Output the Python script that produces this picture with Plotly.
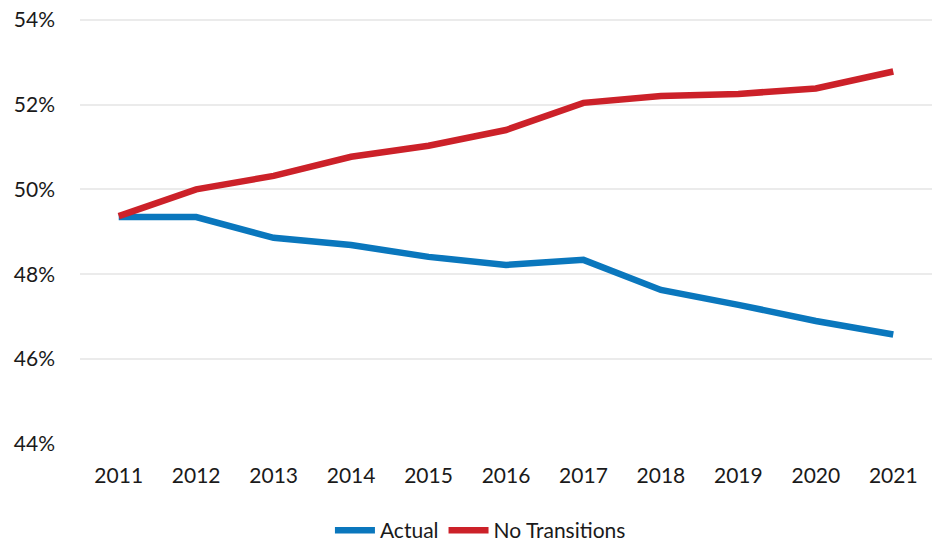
import plotly.graph_objects as go

years = ["2011", "2012", "2013", "2014", "2015", "2016", "2017", "2018", "2019", "2020", "2021"]
actual = [49.35, 49.35, 48.86, 48.69, 48.41, 48.22, 48.34, 47.63, 47.28, 46.90, 46.58]
no_transitions = [49.37, 50.0, 50.32, 50.77, 51.03, 51.40, 52.04, 52.20, 52.25, 52.38, 52.78]
y_ticks = [44, 46, 48, 50, 52, 54]
y_tick_labels = ["44%", "46%", "48%", "50%", "52%", "54%"]

fig = go.Figure()
fig.add_trace(go.Scatter(x=years, y=actual, mode="lines", name="Actual",
                         line=dict(color="#0a77bd", width=6.5)))
fig.add_trace(go.Scatter(x=years, y=no_transitions, mode="lines", name="No Transitions",
                         line=dict(color="#cc2129", width=6.5)))

fig.update_layout(
    width=934, height=544,
    margin=dict(l=80, r=2, t=18, b=100, autoexpand=False),
    plot_bgcolor="white", paper_bgcolor="white",
    font=dict(family="Lato, 'Source Sans Pro', sans-serif", size=21, color="#1a1a1a"),
    showlegend=True,
    legend=dict(orientation="h", x=0.47, xanchor="center", y=-0.203, yanchor="middle",
                font=dict(size=21), itemwidth=40, tracegroupgap=0),
)
fig.update_xaxes(type="category", showgrid=False, showline=False, ticks="",
                 ticklabelstandoff=17, range=[-0.5, 10.5])
fig.update_yaxes(range=[44, 54.04], tickvals=y_ticks, ticktext=y_tick_labels,
                 showgrid=True, gridcolor="#ebebeb", gridwidth=1.5, zeroline=False,
                 showline=False, ticks="", ticklabelstandoff=24,
                 ticklabeloverflow="allow")

fig.write_html("out.html", config={"responsive": False, "displayModeBar": False},
               post_script="document.body.style.margin='0px';")
